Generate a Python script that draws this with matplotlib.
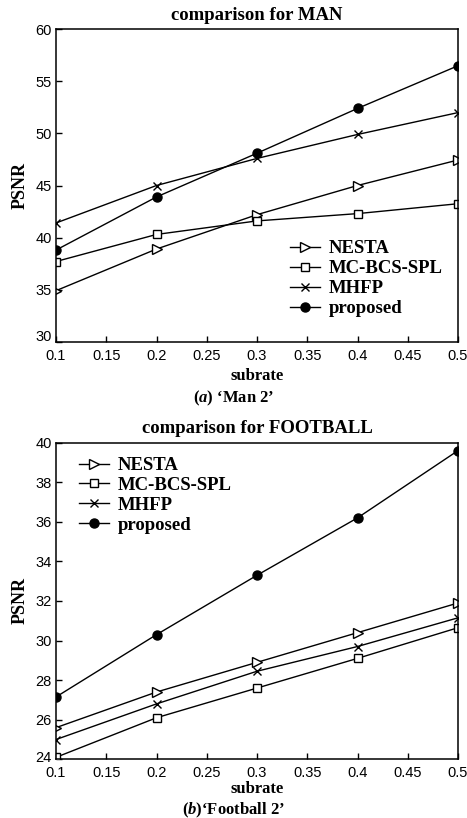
import matplotlib
matplotlib.use("Agg")
import matplotlib.pyplot as plt
import matplotlib.transforms as mtransforms

plt.rcParams["mathtext.fontset"] = "custom"
plt.rcParams["mathtext.rm"] = "Liberation Serif"
plt.rcParams["mathtext.it"] = "Liberation Serif:italic:bold"
plt.rcParams["mathtext.bf"] = "Liberation Serif:bold"

subrate = [0.1, 0.2, 0.3, 0.4, 0.5]
series_names = ["NESTA", "MC-BCS-SPL", "MHFP", "proposed"]

man_nesta = [34.9, 38.9, 42.2, 45.0, 47.45]
man_mcbcs = [37.7, 40.3, 41.6, 42.3, 43.25]
man_mhfp = [41.4, 45.0, 47.6, 49.9, 52.0]
man_proposed = [38.8, 43.9, 48.1, 52.4, 56.5]

fb_nesta = [25.6, 27.4, 28.9, 30.4, 31.9]
fb_mcbcs = [24.1, 26.1, 27.6, 29.1, 30.65]
fb_mhfp = [25.0, 26.8, 28.45, 29.7, 31.15]
fb_proposed = [27.15, 30.3, 33.3, 36.2, 39.6]

xticks = [0.1, 0.15, 0.2, 0.25, 0.3, 0.35, 0.4, 0.45, 0.5]
xticklabels = ["0.1", "0.15", "0.2", "0.25", "0.3", "0.35", "0.4", "0.45", "0.5"]
man_yticks = [30, 35, 40, 45, 50, 55, 60]
fb_yticks = [24, 26, 28, 30, 32, 34, 36, 38, 40]

SERIF = ["Liberation Serif", "DejaVu Serif"]
SANS = ["Liberation Sans", "DejaVu Sans"]

styles = [
    dict(marker=">", markerfacecolor="white", markersize=6.5),
    dict(marker="s", markerfacecolor="white", markersize=5.5),
    dict(marker="x", markersize=6),
    dict(marker="o", markerfacecolor="black", markersize=6.5),
]

fig = plt.figure(figsize=(4.67, 8.18), dpi=100)
W, H = 467.0, 818.0

def make_ax(left, top, right, bottom):
    return fig.add_axes([left / W, 1 - bottom / H, (right - left) / W, (bottom - top) / H])

ax1 = make_ax(56, 29.3, 458, 341.7)
ax2 = make_ax(56, 442.7, 458, 759.3)

def draw(ax, data, yticks, title, caption, legend_anchor, cap_y, first_shift, xlabelpad):
    for name, vals, st in zip(series_names, data, styles):
        ax.plot(subrate, vals, color="black", linewidth=1.0,
                markeredgecolor="black", markeredgewidth=1.0, label=name, **st)
    ax.set_xlim(0.1, 0.5)
    ax.set_ylim(yticks[0], yticks[-1])
    ax.set_xticks(xticks)
    ax.set_xticklabels(xticklabels, family=SANS, fontsize=10.5)
    ax.set_yticks(yticks)
    ylabels = ax.set_yticklabels([str(v) for v in yticks], family=SANS, fontsize=10.5)
    ax.tick_params(direction="in", length=4, width=1, top=False, right=False)
    ax.tick_params(axis="x", pad=5)
    ax.tick_params(axis="y", pad=3)
    off = mtransforms.ScaledTranslation(0, first_shift / 100.0, fig.dpi_scale_trans)
    ylabels[0].set_transform(ylabels[0].get_transform() + off)
    for sp in ax.spines.values():
        sp.set_linewidth(1.1)
    ax.set_title(title, family=SERIF, fontsize=13.5, fontweight="bold", pad=7)
    ax.set_ylabel("PSNR", family=SERIF, fontsize=13, fontweight="bold", labelpad=5)
    ax.set_xlabel("subrate", family=SERIF, fontsize=12, fontweight="bold", labelpad=xlabelpad)
    ax.legend(loc="upper left", bbox_to_anchor=legend_anchor, frameon=False,
              prop=dict(family=SERIF, size=13.5, weight="bold"),
              handlelength=1.6, handletextpad=0.45, labelspacing=0.15,
              borderpad=0, borderaxespad=0)
    fig.text(0.5, 1 - cap_y / H, caption, family=SERIF, fontsize=12,
             fontweight="bold", ha="center", va="center")

draw(ax1, [man_nesta, man_mcbcs, man_mhfp, man_proposed], man_yticks,
     "comparison for MAN", r"($\mathit{a}$) ‘Man 2’", (0.582, 0.325), 398, 6, 4)
draw(ax2, [fb_nesta, fb_mcbcs, fb_mhfp, fb_proposed], fb_yticks,
     "comparison for FOOTBALL", r"($\mathit{b}$)‘Football 2’", (0.057, 0.955), 810, 3, 0.5)

fig.savefig("out.png", dpi=100)
